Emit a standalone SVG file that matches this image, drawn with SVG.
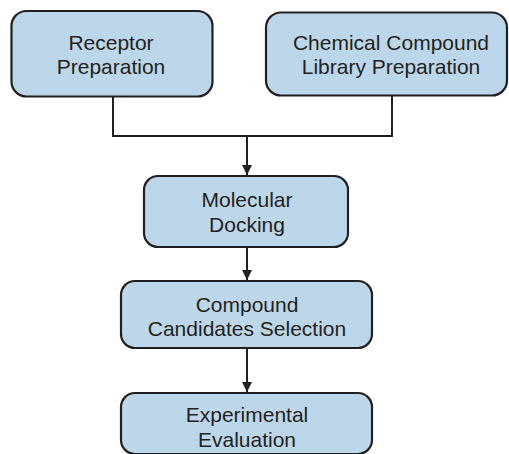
<svg xmlns="http://www.w3.org/2000/svg" width="509" height="454" viewBox="0 0 509 454">
  <style>
    .box { fill: #bdd7ea; stroke: #231f20; stroke-width: 2.2; }
    .lbl { font-family: "Liberation Sans", Arial, sans-serif; font-size: 21px; fill: #231f20; text-anchor: middle; }
    .wire { fill: none; stroke: #231f20; stroke-width: 2; }
  </style>
  <defs>
    <marker id="arrow" viewBox="0 0 10 10" refX="10" refY="5" markerWidth="10" markerHeight="10" markerUnits="userSpaceOnUse" orient="auto">
      <path d="M0,0 L10,5 L0,10 z" fill="#231f20"/>
    </marker>
  </defs>

  <g id="connectors">
    <path class="wire" d="M113,96 V136 H392 V95"/>
    <path class="wire" d="M247,136 V175" marker-end="url(#arrow)"/>
    <path class="wire" d="M247,247 V280" marker-end="url(#arrow)"/>
    <path class="wire" d="M247,348 V392" marker-end="url(#arrow)"/>
  </g>

  <g id="receptor">
    <rect class="box" x="11.5" y="11" width="201" height="85.5" rx="15"/>
    <text class="lbl" x="111" y="50">Receptor</text>
    <text class="lbl" x="111" y="74">Preparation</text>
  </g>

  <g id="library">
    <rect class="box" x="266" y="12.5" width="241" height="83" rx="15"/>
    <text class="lbl" x="391" y="50">Chemical Compound</text>
    <text class="lbl" x="391" y="74">Library Preparation</text>
  </g>

  <g id="docking">
    <rect class="box" x="144" y="176" width="204" height="71" rx="14"/>
    <text class="lbl" x="247" y="207">Molecular</text>
    <text class="lbl" x="247" y="232">Docking</text>
  </g>

  <g id="selection">
    <rect class="box" x="121" y="281" width="251" height="67" rx="14"/>
    <text class="lbl" x="247" y="312">Compound</text>
    <text class="lbl" x="247" y="336">Candidates Selection</text>
  </g>

  <g id="evaluation">
    <rect class="box" x="121" y="393" width="251" height="61" rx="14"/>
    <text class="lbl" x="247" y="422">Experimental</text>
    <text class="lbl" x="247" y="447">Evaluation</text>
  </g>
</svg>
